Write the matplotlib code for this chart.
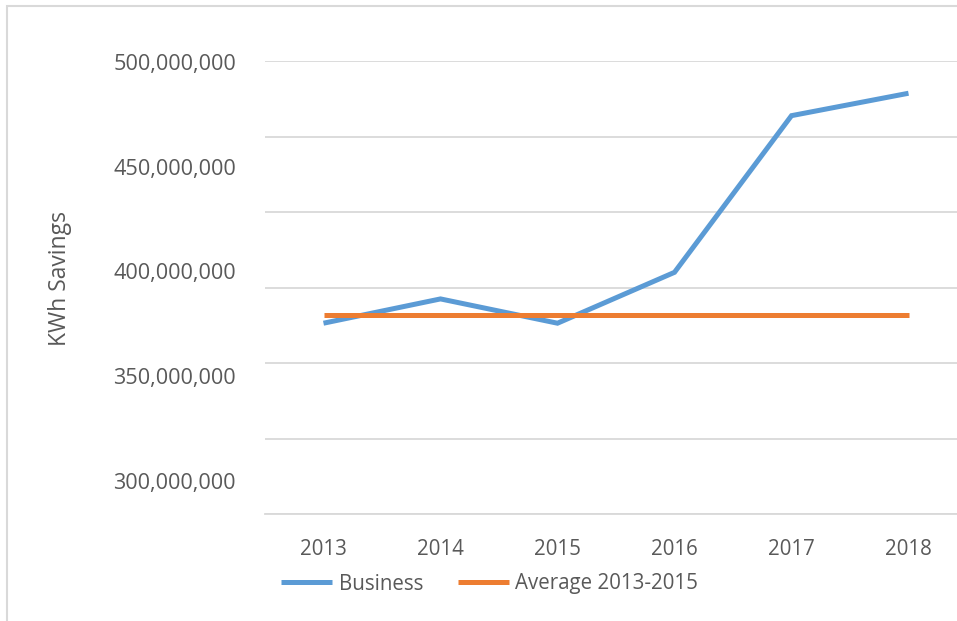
import matplotlib
matplotlib.use("Agg")
import matplotlib.pyplot as plt
import numpy as np
from matplotlib.ticker import FuncFormatter
from matplotlib.patches import Rectangle

years = ["2013", "2014", "2015", "2016", "2017", "2018"]
business = [375.2e6, 386.8e6, 375.2e6, 399.5e6, 474.3e6, 485.0e6]
average_2013_2015 = [379.0e6] * 6
y_labels = [300e6, 350e6, 400e6, 450e6, 500e6]

blue = "#5B9BD5"
orange = "#ED7D31"
grey_text = "#595959"
grid_col = "#D9D9D9"
fs = 14.8

plt.rcParams["font.family"] = ["Open Sans", "DejaVu Sans"]

W, H = 957, 621
fig = plt.figure(figsize=(W / 100, H / 100), dpi=100)
fig.patch.set_facecolor("white")

# Rahmen oben und links
fig.patches.append(Rectangle((6.5 / W, -0.1), 1.2, 1.1 - 6 / H,
                             transform=fig.transFigure, fill=False,
                             edgecolor=grid_col, lw=1.5))

# Plotbereich: 265..967 px horizontal, 61..514 px vertikal
ax = fig.add_axes([265 / W, (H - 514.3) / H, 702 / W, (514.3 - 61) / H])
x = np.arange(len(years))

ax.plot(x, business, color=blue, lw=3.6, solid_joinstyle="miter",
        solid_capstyle="butt", label="Business", zorder=3)
ax.plot(x, average_2013_2015, color=orange, lw=3.6, solid_capstyle="butt",
        label="Average 2013-2015", zorder=3)

ymin, ymax = 283.96e6, 500.4e6
ax.set_ylim(ymin, ymax)
ax.set_xlim(-0.5, len(years) - 0.5)

ax.set_xticks(x)
ax.set_xticklabels(years)
ax.set_yticks(y_labels)
ax.yaxis.set_major_formatter(FuncFormatter(lambda v, p: f"{v:,.0f}"))
ax.set_yticks(np.linspace(ymin, ymax, 7), minor=True)
ax.grid(True, which="minor", axis="y", color=grid_col, lw=1.3)
ax.tick_params(axis="both", which="both", length=0, labelsize=fs,
               labelcolor=grey_text)
ax.tick_params(axis="y", pad=21, labelsize=15.6)
ax.tick_params(axis="x", pad=17.5)

for s in ["left", "right", "top"]:
    ax.spines[s].set_visible(False)
ax.spines["bottom"].set_color(grid_col)
ax.spines["bottom"].set_linewidth(1.3)

fig.text(60 / W, 1 - 279 / H, "KWh Savings", rotation=90, ha="center",
         va="center", fontsize=16.5, color=grey_text)

fig.legend(loc="center left", bbox_to_anchor=(281 / W, 1 - 584 / H),
           ncol=2, frameon=False, fontsize=fs, handlelength=2.5,
           handletextpad=0.3, columnspacing=1.7, borderpad=0,
           borderaxespad=0, labelcolor=grey_text)

fig.savefig("out.png", dpi=100)
